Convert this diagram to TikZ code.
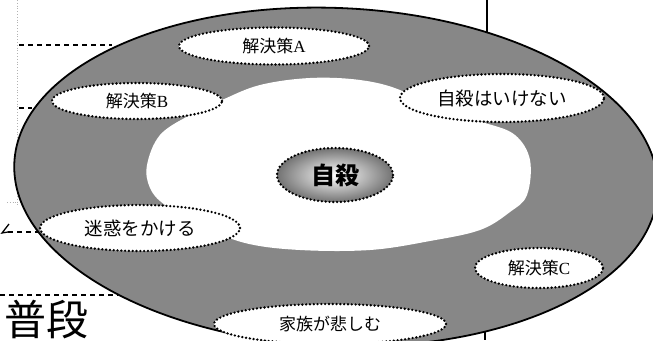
\documentclass[tikz,border=0pt]{standalone}
\usepackage{fontspec}
\usetikzlibrary{shapes.geometric}
\newfontfamily\jp{Noto Sans CJK JP}
\newfontfamily\lat{Liberation Serif}
\newcommand\kaiketsu[1]{解決策{\lat #1}}
\begin{document}
\begin{tikzpicture}[x=1pt,y=-1pt,
  ringfill/.style={fill=black!47, draw=black, line width=1.8pt},
  bubble/.style={ellipse, fill=white, draw=black, line width=2.6pt, line cap=round,
    dash pattern=on 0pt off 3.8pt, inner sep=0pt},
  guide/.style={draw=black, line width=1.4pt, dash pattern=on 5pt off 4pt},
  faint/.style={draw=black!30, line width=0.8pt, dotted},
  lbl/.style={font=\jp\fontsize{17}{17}\selectfont}]
\useasboundingbox (0,0) rectangle (653,340);
\clip (0,0) rectangle (653,340);
\fill[white] (0,0) rectangle (653,340);

% background marks
\draw[faint] (17,0) -- (17,205);
\draw[faint] (7,202) -- (17,202);
\draw[guide] (19,45) -- (112,45);
\draw[guide] (19,108) -- (32,108);
\draw[guide] (8,232) -- (42,232);
\draw[guide] (0,295) -- (118,295);
\draw[line width=1.3pt] (9,224) -- (2,233) -- (8,232);
\draw[line width=2.2pt] (487,0) -- (487,34);
\draw[line width=2.2pt] (485,328) -- (485,340);
\node[font=\jp\fontsize{42}{42}\selectfont, anchor=north west, inner sep=0pt] (futsu) at (4,300) {普段};

% big ring
\path[ringfill, rotate around={-2.5:(336,177)}] (336,177) ellipse [x radius=322pt, y radius=169pt];
% inner white area
\fill[white] plot[smooth cycle, tension=0.6] coordinates {
  (147,165) (160,135) (190,115) (222,100) (260,85) (310,78) (360,80) (400,90)
  (440,112) (485,123) (515,135) (530,160) (527,195) (510,212) (480,230)
  (430,241) (370,250) (300,250) (245,243) (200,225) (165,205) (150,188)};

% bubbles
\node[bubble, minimum width=190pt, minimum height=37pt, lbl] (a) at (274,46) {\kaiketsu{A}};
\node[bubble, minimum width=170pt, minimum height=36pt, lbl] (b) at (137,101) {\kaiketsu{B}};
\node[bubble, minimum width=204pt, minimum height=48pt, lbl, font=\jp\fontsize{18.5}{18.5}\selectfont] (c) at (502,98) {自殺はいけない};
\node[bubble, minimum width=200pt, minimum height=46pt, lbl, font=\jp\fontsize{18.5}{18.5}\selectfont] (d) at (140,228) {迷惑をかける};
\node[bubble, minimum width=128pt, minimum height=40pt, lbl] (e) at (539,268) {\kaiketsu{C}};
\node[bubble, minimum width=232pt, minimum height=40pt, lbl] (f) at (330,324) {家族が悲しむ};
\node[bubble, minimum width=116pt, minimum height=54pt, inner color=white, outer color=black!55,
  font=\jp\bfseries\fontsize{24}{24}\selectfont] (core) at (335,175) {自殺};
\end{tikzpicture}
\end{document}
